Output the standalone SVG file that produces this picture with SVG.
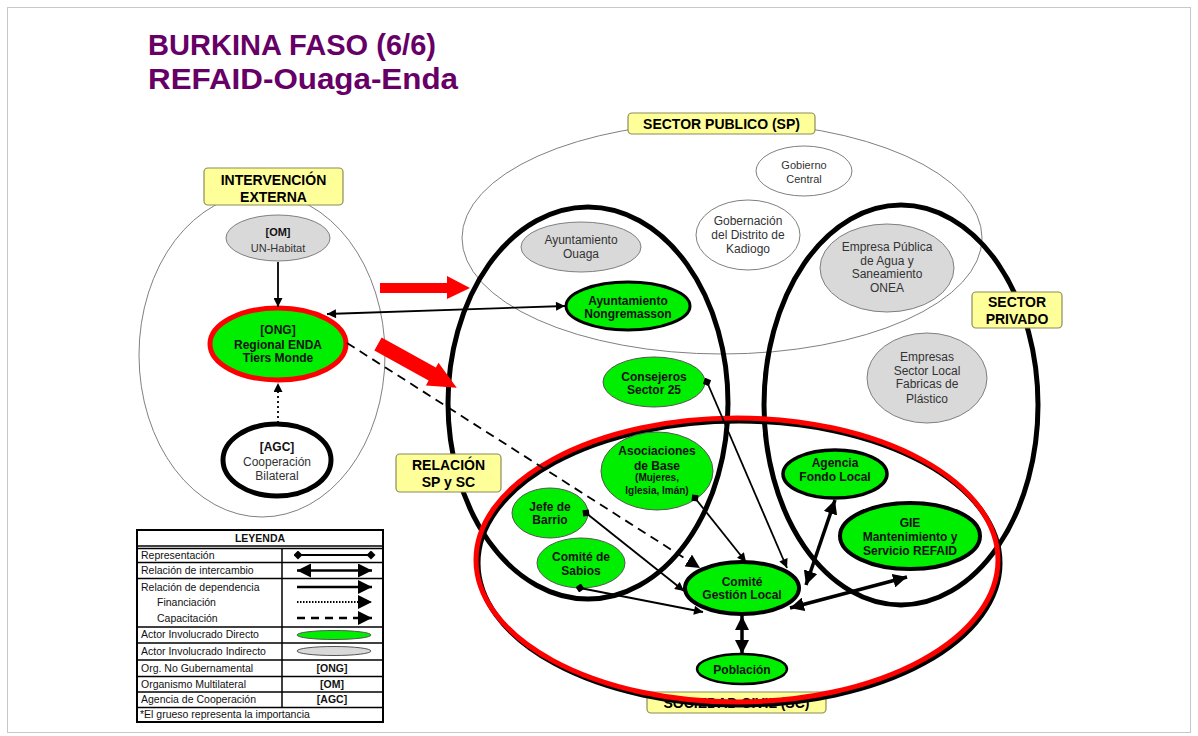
<svg xmlns="http://www.w3.org/2000/svg" width="1198" height="736" viewBox="0 0 1198 736">
<style>
text { font-family: "Liberation Sans", Arial, sans-serif; }
.title { font-size: 29px; font-weight: bold; fill: #660066; }
.nb { font-size: 12px; font-weight: bold; text-anchor: middle; fill: #111; }
.ns { font-size: 10px; font-weight: bold; text-anchor: middle; fill: #111; }
.nr { font-size: 12px; text-anchor: middle; fill: #333; }
.lbl { font-size: 14px; font-weight: bold; text-anchor: middle; fill: #000; }
.lg { font-size: 10.5px; fill: #111; }
.lgb { font-size: 10.5px; font-weight: bold; fill: #111; text-anchor: middle; }
.box { fill: #ffff99; stroke: #8c8c5a; stroke-width: 1.2; }
.cont { fill: none; stroke: #808080; stroke-width: 1; }
.thick { fill: none; stroke: #000; stroke-width: 5; }
.green { fill: #00ee00; }
.gray { fill: #d9d9d9; stroke: #7f7f7f; stroke-width: 1; }
.white { fill: #fff; stroke: #7f7f7f; stroke-width: 1; }
.ln { fill: none; stroke: #000; stroke-width: 1.8; }
.lnk { fill: none; stroke: #000; stroke-width: 3.5; }
.red { fill: #ff0000; }
.tl { stroke: #000; stroke-width: 1.5; }
</style>
<defs>
<marker id="ah" viewBox="0 0 10 10" refX="10" refY="5" markerWidth="11" markerHeight="9" markerUnits="userSpaceOnUse" orient="auto-start-reverse"><path d="M0,0 L10,5 L0,10 z" fill="#000"/></marker>
<marker id="ahL" viewBox="0 0 10 10" refX="10" refY="5" markerWidth="14" markerHeight="14" markerUnits="userSpaceOnUse" orient="auto-start-reverse"><path d="M0,0 L10,5 L0,10 z" fill="#000"/></marker>
<marker id="ahXL" viewBox="0 0 10 10" refX="10" refY="5" markerWidth="14" markerHeight="17" markerUnits="userSpaceOnUse" orient="auto-start-reverse"><path d="M0,0 L10,5 L0,10 z" fill="#000"/></marker>
<marker id="dm" viewBox="0 0 10 10" refX="5" refY="5" markerWidth="9" markerHeight="9" markerUnits="userSpaceOnUse" orient="auto"><path d="M0,5 L5,0 L10,5 L5,10 z" fill="#000"/></marker>
</defs>
<rect x="0" y="0" width="1198" height="736" fill="#fff"/>
<rect x="7.5" y="7.5" width="1183" height="725" fill="none" stroke="#c8c8c8" stroke-width="1"/>

<g id="title">
<text class="title" x="148" y="55" textLength="288" lengthAdjust="spacingAndGlyphs">BURKINA FASO (6/6)</text>
<text class="title" x="148" y="89" textLength="310" lengthAdjust="spacingAndGlyphs">REFAID-Ouaga-Enda</text>
</g>

<!-- containers -->
<g id="intervencion-externa">
<ellipse class="cont" cx="262" cy="355" rx="123" ry="162"/>
<rect class="box" x="204" y="168" width="139" height="37" rx="4"/>
<text class="lbl" x="273.5" y="185">INTERVENCIÓN</text>
<text class="lbl" x="273.5" y="202">EXTERNA</text>
</g>

<g id="sector-publico">
<ellipse class="cont" cx="722" cy="238" rx="260" ry="116"/>
<rect class="box" x="628" y="113" width="187" height="21" rx="4"/>
<text class="lbl" x="721.5" y="129">SECTOR PUBLICO (SP)</text>
</g>

<g id="relacion-sp-sc">
<ellipse class="thick" cx="588" cy="403" rx="140" ry="196"/>
<rect class="box" x="396" y="454" width="105" height="38" rx="4"/>
<text class="lbl" x="448.5" y="470">RELACIÓN</text>
<text class="lbl" x="448.5" y="487">SP y SC</text>
</g>

<g id="sector-privado">
<ellipse class="thick" cx="901" cy="405" rx="137" ry="200"/>
<rect class="box" x="972" y="292" width="90" height="36" rx="4"/>
<text class="lbl" x="1017" y="307">SECTOR</text>
<text class="lbl" x="1017" y="324">PRIVADO</text>
</g>

<g id="sociedad-civil">
<rect class="box" x="647" y="692" width="179" height="21" rx="4"/>
<text class="lbl" x="736.5" y="708">SOCIEDAD CIVIL (SC)</text>
<ellipse cx="739" cy="563" rx="261" ry="142" fill="none" stroke="#000" stroke-width="5"/>
<ellipse cx="737" cy="560" rx="261" ry="142" fill="none" stroke="#ff0000" stroke-width="5"/>
</g>

<!-- nodes -->
<g id="un-habitat">
<ellipse class="gray" cx="278" cy="238" rx="52" ry="23"/>
<text class="nb" x="278" y="236" style="font-size:11px">[OM]</text>
<text class="nr" x="278" y="252" style="font-size:11px">UN-Habitat</text>
</g>
<g id="enda">
<ellipse class="green" cx="278" cy="344" rx="68" ry="36" stroke="#ff0000" stroke-width="5"/>
<text class="nb" x="278" y="334">[ONG]</text>
<text class="nb" x="278" y="349">Regional ENDA</text>
<text class="nb" x="278" y="362">Tiers Monde</text>
</g>
<g id="agc">
<ellipse cx="277" cy="460" rx="54" ry="36" fill="#fff" stroke="#000" stroke-width="5"/>
<text class="nb" x="277" y="451">[AGC]</text>
<text class="nr" x="277" y="466">Cooperación</text>
<text class="nr" x="277" y="480">Bilateral</text>
</g>
<g id="gobierno-central">
<ellipse class="white" cx="804" cy="171" rx="48" ry="25"/>
<text class="nr" x="804" y="169" style="font-size:11px">Gobierno</text>
<text class="nr" x="804" y="183" style="font-size:11px">Central</text>
</g>
<g id="gobernacion">
<ellipse class="white" cx="748" cy="235" rx="52" ry="35"/>
<text class="nr" x="748" y="225">Gobernación</text>
<text class="nr" x="748" y="239">del Distrito de</text>
<text class="nr" x="748" y="253">Kadiogo</text>
</g>
<g id="ayuntamiento-ouaga">
<ellipse class="gray" cx="581" cy="247" rx="60" ry="25"/>
<text class="nr" x="581" y="244">Ayuntamiento</text>
<text class="nr" x="581" y="258">Ouaga</text>
</g>
<g id="ayuntamiento-nongremasson">
<ellipse class="green" cx="628" cy="306" rx="62" ry="24" stroke="#000" stroke-width="3"/>
<text class="nb" x="628" y="305">Ayuntamiento</text>
<text class="nb" x="628" y="318">Nongremasson</text>
</g>
<g id="onea">
<ellipse class="gray" cx="887" cy="268" rx="67" ry="44"/>
<text class="nr" x="887" y="251">Empresa Pública</text>
<text class="nr" x="887" y="265">de Agua y</text>
<text class="nr" x="887" y="278">Saneamiento</text>
<text class="nr" x="887" y="292">ONEA</text>
</g>
<g id="empresas-sector-local">
<ellipse class="gray" cx="927" cy="378" rx="60" ry="45"/>
<text class="nr" x="927" y="361">Empresas</text>
<text class="nr" x="927" y="375">Sector Local</text>
<text class="nr" x="927" y="388">Fabricas de</text>
<text class="nr" x="927" y="403">Plástico</text>
</g>
<g id="consejeros">
<ellipse class="green" cx="654" cy="382" rx="51" ry="25" stroke="#555" stroke-width="1"/>
<text class="nb" x="654" y="381">Consejeros</text>
<text class="nb" x="654" y="394">Sector 25</text>
</g>
<g id="asociaciones">
<ellipse class="green" cx="657" cy="471" rx="56" ry="39" stroke="#555" stroke-width="1"/>
<text class="nb" x="657" y="455">Asociaciones</text>
<text class="nb" x="657" y="470">de Base</text>
<text class="ns" x="657" y="481">(Mujeres,</text>
<text class="ns" x="657" y="494">Iglesia, Imán)</text>
</g>
<g id="jefe-de-barrio">
<ellipse class="green" cx="550" cy="513" rx="38" ry="25" stroke="#555" stroke-width="1"/>
<text class="nb" x="550" y="511">Jefe de</text>
<text class="nb" x="550" y="524">Barrio</text>
</g>
<g id="comite-sabios">
<ellipse class="green" cx="581" cy="563" rx="44" ry="25" stroke="#555" stroke-width="1"/>
<text class="nb" x="581" y="561">Comité de</text>
<text class="nb" x="581" y="575">Sabios</text>
</g>
<g id="comite-gestion-local">
<ellipse class="green" cx="742" cy="588" rx="57" ry="26" stroke="#000" stroke-width="4"/>
<text class="nb" x="742" y="586">Comité</text>
<text class="nb" x="742" y="599">Gestión Local</text>
</g>
<g id="poblacion">
<ellipse class="green" cx="742" cy="669" rx="45" ry="15" stroke="#000" stroke-width="2.5"/>
<text class="nb" x="742" y="674">Población</text>
</g>
<g id="agencia-fondo-local">
<ellipse class="green" cx="835" cy="474" rx="52" ry="24" stroke="#000" stroke-width="3.5"/>
<text class="nb" x="835" y="467">Agencia</text>
<text class="nb" x="835" y="481">Fondo Local</text>
</g>
<g id="gie">
<ellipse class="green" cx="910" cy="536" rx="70" ry="33" stroke="#000" stroke-width="4"/>
<text class="nb" x="910" y="527">GIE</text>
<text class="nb" x="910" y="541">Mantenimiento y</text>
<text class="nb" x="910" y="555">Servicio REFAID</text>
</g>

<!-- connectors -->
<g id="connectors">
<polygon class="red" points="380,283 447,283 447,276 470,288 447,299 447,293 380,293"/>
<polygon class="red" transform="translate(378,344) rotate(29)" points="0,-7.5 62,-7.5 62,-13 90,0 62,13 62,7.5 0,7.5"/>
<line class="ln" x1="278" y1="262" x2="278" y2="307" stroke-width="2" marker-end="url(#ah)"/>
<line class="ln" x1="278" y1="423" x2="278" y2="383" stroke-width="3" stroke-dasharray="2 3" marker-end="url(#ah)"/>
<line class="ln" x1="327" y1="314" x2="565" y2="306" stroke-width="2" marker-start="url(#ah)" marker-end="url(#ah)"/>
<line class="ln" x1="347" y1="343" x2="700" y2="568" stroke-width="2.5" stroke-dasharray="9 6" marker-end="url(#ahL)"/>
<line class="ln" x1="707" y1="382" x2="787" y2="568" marker-start="url(#dm)" marker-end="url(#ah)"/>
<line class="ln" x1="695" y1="498" x2="746" y2="562" marker-start="url(#dm)" marker-end="url(#ah)"/>
<line class="ln" x1="586" y1="513" x2="684" y2="591" marker-start="url(#dm)" marker-end="url(#ah)"/>
<line class="ln" x1="580" y1="588" x2="703" y2="612" marker-start="url(#dm)" marker-end="url(#ah)"/>
<line class="lnk" x1="806" y1="585" x2="835" y2="500" marker-start="url(#ahL)" marker-end="url(#ahL)"/>
<line class="lnk" x1="790" y1="608" x2="907" y2="577" marker-start="url(#ahL)" marker-end="url(#ahL)"/>
<line class="lnk" x1="742" y1="616" x2="742" y2="654" stroke-width="4.5" marker-start="url(#ahXL)" marker-end="url(#ahXL)"/>
</g>

<!-- legend -->
<g id="leyenda">
<rect x="137" y="530" width="246" height="192" fill="#fff" stroke="#000" stroke-width="2"/>
<line class="tl" x1="137" y1="546" x2="383" y2="546"/>
<line class="tl" x1="137" y1="548.5" x2="383" y2="548.5"/>
<line class="tl" x1="137" y1="562.5" x2="383" y2="562.5"/>
<line class="tl" x1="137" y1="578.5" x2="383" y2="578.5"/>
<line class="tl" x1="137" y1="627" x2="383" y2="627"/>
<line class="tl" x1="137" y1="643" x2="383" y2="643"/>
<line class="tl" x1="137" y1="660" x2="383" y2="660"/>
<line class="tl" x1="137" y1="676.5" x2="383" y2="676.5"/>
<line class="tl" x1="137" y1="692" x2="383" y2="692"/>
<line class="tl" x1="137" y1="707.5" x2="383" y2="707.5"/>
<line class="tl" x1="282" y1="548.5" x2="282" y2="707.5"/>
<text class="lgb" x="260" y="542">LEYENDA</text>
<text class="lg" x="141" y="559">Representación</text>
<text class="lg" x="141" y="574">Relación de intercambio</text>
<text class="lg" x="141" y="591">Relación de dependencia</text>
<text class="lg" x="157" y="606">Financiación</text>
<text class="lg" x="157" y="622">Capacitación</text>
<text class="lg" x="141" y="638">Actor Involucrado Directo</text>
<text class="lg" x="141" y="655">Actor Involucrado Indirecto</text>
<text class="lg" x="141" y="672">Org. No Gubernamental</text>
<text class="lg" x="141" y="688">Organismo Multilateral</text>
<text class="lg" x="141" y="703">Agencia de Cooperación</text>
<text class="lg" x="140" y="718">*El grueso representa la importancia</text>
<line x1="298" y1="555" x2="371" y2="555" stroke="#000" stroke-width="1.8" marker-start="url(#dm)" marker-end="url(#dm)"/>
<line x1="297" y1="570.5" x2="372" y2="570.5" stroke="#000" stroke-width="2.5" marker-start="url(#ahL)" marker-end="url(#ahL)"/>
<line x1="297" y1="587" x2="372" y2="587" stroke="#000" stroke-width="2.5" marker-end="url(#ahL)"/>
<line x1="297" y1="602" x2="372" y2="602" stroke="#000" stroke-width="2" stroke-dasharray="1.5 1.5" marker-end="url(#ahL)"/>
<line x1="297" y1="618" x2="372" y2="618" stroke="#000" stroke-width="2.5" stroke-dasharray="8 6" marker-end="url(#ahL)"/>
<ellipse cx="334" cy="635" rx="37" ry="4.5" fill="#00ee00" stroke="#555" stroke-width="1"/>
<ellipse cx="334" cy="651" rx="37" ry="4.5" fill="#d9d9d9" stroke="#555" stroke-width="1"/>
<text class="lgb" x="332" y="672">[ONG]</text>
<text class="lgb" x="332" y="688">[OM]</text>
<text class="lgb" x="332" y="703">[AGC]</text>
</g>
</svg>
